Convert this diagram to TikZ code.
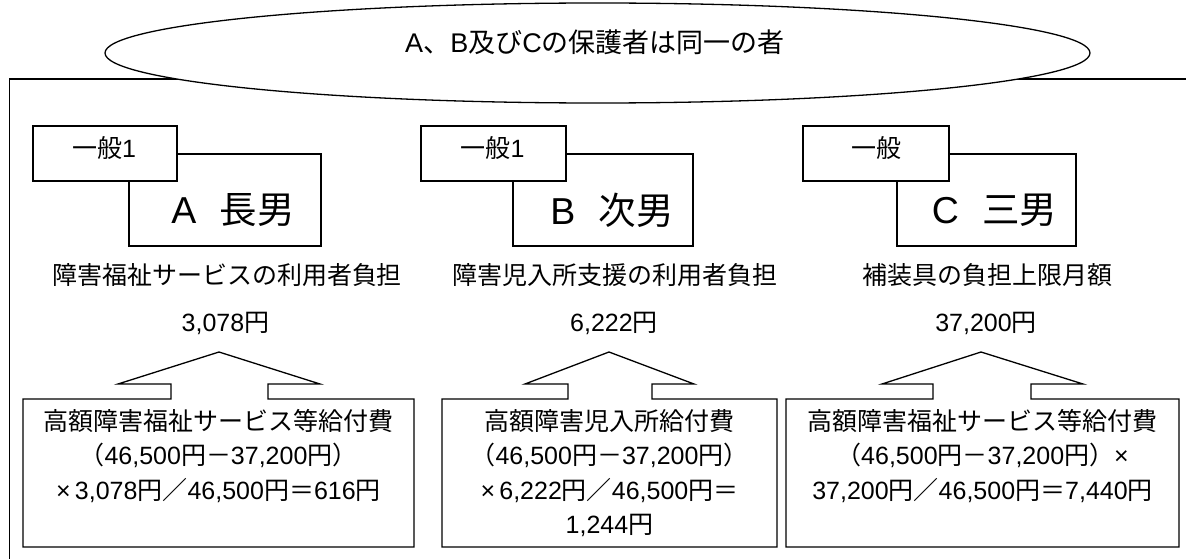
\documentclass[tikz,border=0pt]{standalone}
\usepackage{fontspec}
\setmainfont{Noto Sans CJK JP}
\newfontfamily\latf{Liberation Sans}
\newcommand\la[1]{{\latf #1}}
\usetikzlibrary{shapes.geometric}
\tikzset{
  frameline/.style={draw=black, line width=1.4pt},
  oval/.style={draw=black, ellipse, fill=white, line width=1.3pt, inner sep=0pt},
  topbox/.style={draw=black, fill=white, line width=1.1pt, inner sep=0pt},
  cbox/.style={draw=black, line width=1.3pt, line join=miter},
  txt/.style={inner sep=0pt, font=\fontsize{25}{34.5}\selectfont, text=black},
  titletxt/.style={inner sep=0pt, font=\fontsize{27}{30}\selectfont, text=black},
  bigtxt/.style={inner sep=0pt, font=\fontsize{37.5}{40}\selectfont, text=black},
  btxt/.style={txt, align=center, anchor=north}
}
\begin{document}
\begin{tikzpicture}[x=1pt,y=-1pt]
\useasboundingbox (0,0) rectangle (1186,559);
\clip (0,0) rectangle (1186,559);
% outer frame
\draw[frameline] (9.5,79) rectangle (1200,580);
% ellipse with title
\node[oval, minimum width=985pt, minimum height=100pt] (ov) at (597.5,53) {};
\node[titletxt] (title) at (595,42) {\la{A}、\la{B}及び\la{C}の保護者は同一の者};
% A
\node[topbox, minimum width=192pt, minimum height=92pt] (Abig) at (225,200) {};
\node[topbox, minimum width=144pt, minimum height=55pt] (Asm) at (105,153.5) {};
\node[txt] (Ag) at (104,148) {一般\la{1}};
\node[bigtxt] (An) at (233,210) {\la{A}\hspace{0.62em}長男};
% B
\node[topbox, minimum width=180pt, minimum height=92pt] (Bbig) at (603,200) {};
\node[topbox, minimum width=145pt, minimum height=55pt] (Bsm) at (493.5,153.5) {};
\node[txt] (Bg) at (492.5,148) {一般\la{1}};
\node[bigtxt] (Bn) at (612,210) {\la{B}\hspace{0.62em}次男};
% C
\node[topbox, minimum width=179pt, minimum height=92pt] (Cbig) at (986.5,200) {};
\node[topbox, minimum width=146pt, minimum height=55pt] (Csm) at (876,153.5) {};
\node[txt] (Cg) at (876,148) {一般};
\node[bigtxt] (Cn) at (994.5,210) {\la{C}\hspace{0.62em}三男};
% labels
\node[txt] (Al) at (227,275) {障害福祉サービスの利用者負担};
\node[txt] (Bl) at (615,275) {障害児入所支援の利用者負担};
\node[txt] (Cl) at (987,275) {補装具の負担上限月額};
\node[txt] (Aa) at (225.5,323) {\la{3,078}円};
\node[txt] (Ba) at (614,323) {\la{6,222}円};
\node[txt] (Ca) at (986,323) {\la{37,200}円};
% callout boxes with block arrows
\draw[cbox] (23,399) -- (171,399) -- (171,384) -- (118,384) -- (219,352) -- (320,384) -- (268,384) -- (268,399) -- (414,399) -- (414,547) -- (23,547) -- cycle;
\draw[cbox] (442,399) -- (568,399) -- (568,384) -- (525,384) -- (609,352) -- (694,384) -- (652,384) -- (652,399) -- (777,399) -- (777,547) -- (442,547) -- cycle;
\draw[cbox] (786,399) -- (933,399) -- (933,384) -- (882,384) -- (981,352) -- (1083,384) -- (1031,384) -- (1031,399) -- (1179,399) -- (1179,547) -- (786,547) -- cycle;
\node[btxt] (At) at (218.5,409) {高額障害福祉サービス等給付費\\（\la{46,500}円－\la{37,200}円）\\\la{×\,3,078}円／\la{46,500}円＝\la{616}円};
\node[btxt] (Bt) at (609.5,409) {高額障害児入所給付費\\（\la{46,500}円－\la{37,200}円）\\\la{×\,6,222}円／\la{46,500}円＝\\\la{1,244}円};
\node[btxt] (Ct) at (982.5,409) {高額障害福祉サービス等給付費\\（\la{46,500}円－\la{37,200}円）\la{×}\\\la{37,200}円／\la{46,500}円＝\la{7,440}円};
\end{tikzpicture}
\end{document}
